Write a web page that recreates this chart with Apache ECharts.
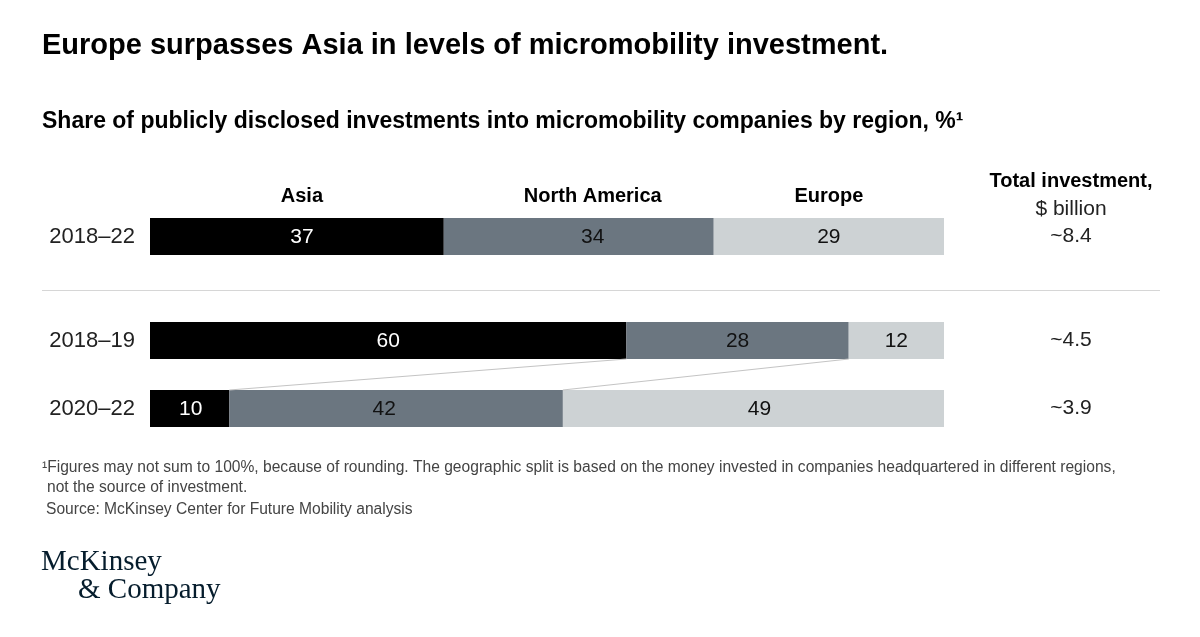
<!DOCTYPE html>
<html><head><meta charset="utf-8">
<script src="https://cdn.jsdelivr.net/npm/echarts@6/dist/echarts.min.js"></script>
<style>html,body{margin:0;padding:0;background:#fff}#c{width:1200px;height:637px}</style>
</head><body><div id="c"></div>
<script>
// ---- data ----
const regions = ['Asia', 'North America', 'Europe'];
const topPeriods = ['2018–22'];
const topAsia = [37];
const topNorthAmerica = [34];
const topEurope = [29];
const topTotals = ['~8.4'];
const splitPeriods = ['2018–19', '2020–22'];
const splitAsia = [60, 10];
const splitNorthAmerica = [28, 42];
const splitEurope = [12, 49];
const splitTotals = ['~4.5', '~3.9'];

// ---- styles ----
const SANS = '"Liberation Sans", Arial, sans-serif';
const colors = ['#000000', '#6b7680', '#cdd2d4'];
const labelColors = ['#ffffff', '#111111', '#111111'];
const BAR_H = 37;
// small horizontal label nudges (pixels) per grid row, per series, as in the original layout
const labelNudge = {
  0: [[5], [14], [0]],
  1: [[0, 1], [0, -12], [0, 6]]
};

const chart = echarts.init(document.getElementById('c'), null, {renderer: 'canvas'});

function barSeries(name, data, idx, gridIdx) {
  return {
    type: 'bar', name: name, stack: 'g' + gridIdx,
    xAxisIndex: gridIdx, yAxisIndex: gridIdx * 2,
    data: data.map((v, i) => ({value: v, label: {offset: [labelNudge[gridIdx][idx][i] || 0, 1]}})),
    barWidth: BAR_H, clip: true,
    itemStyle: {color: colors[idx]},
    label: {show: true, position: 'inside', formatter: '{c}',
      fontFamily: SANS, fontSize: 21, color: labelColors[idx]},
    emphasis: {disabled: true}, animation: false
  };
}

function yAxes(gridIdx, periods, totals) {
  return [
    {type: 'category', gridIndex: gridIdx, data: periods, inverse: true,
      axisLine: {show: false}, axisTick: {show: false}, splitLine: {show: false},
      axisLabel: {fontFamily: SANS, fontSize: 22, color: '#222', margin: 15}},
    {type: 'category', gridIndex: gridIdx, data: totals, inverse: true, position: 'right',
      axisLine: {show: false}, axisTick: {show: false}, splitLine: {show: false},
      axisLabel: {fontFamily: SANS, fontSize: 21, color: '#222', margin: 127, align: 'center',
        padding: [4, 0, 0, 0]}}
  ];
}

// header positions: centers of the top-row segments
const topVals = [topAsia[0], topNorthAmerica[0], topEurope[0]];
const headerData = [];
let acc = 0;
topVals.forEach((v, i) => { headerData.push([acc + v / 2, 0, i]); acc += v; });

// connector lines between cumulative boundaries of the two split rows
const connData = [
  [splitAsia[0], splitAsia[1], 0],
  [splitAsia[0] + splitNorthAmerica[0], splitAsia[1] + splitNorthAmerica[1], 0]
];

const option = {
  backgroundColor: '#ffffff',
  animation: false,
  grid: [
    {left: 150, right: 256, top: 218, height: 37},
    {left: 150, right: 256, top: 306.5, height: 136}
  ],
  xAxis: [
    {type: 'value', gridIndex: 0, min: 0, max: 100, show: false},
    {type: 'value', gridIndex: 1, min: 0, max: 100, show: false}
  ],
  yAxis: [].concat(yAxes(0, topPeriods, topTotals), yAxes(1, splitPeriods, splitTotals)),
  series: [
    barSeries(regions[0], topAsia, 0, 0),
    barSeries(regions[1], topNorthAmerica, 1, 0),
    barSeries(regions[2], topEurope, 2, 0),
    barSeries(regions[0], splitAsia, 0, 1),
    barSeries(regions[1], splitNorthAmerica, 1, 1),
    barSeries(regions[2], splitEurope, 2, 1),
    {
      type: 'custom', xAxisIndex: 0, yAxisIndex: 0, data: headerData,
      encode: {x: 0, y: 1}, silent: true, z: 5,
      renderItem: function (params, api) {
        const p = api.coord([api.value(0), api.value(1)]);
        const k = api.value(2);
        return {type: 'text', x: p[0] + labelNudge[0][k][0], y: p[1] - 40.5,
          style: {text: regions[k], align: 'center', verticalAlign: 'middle',
            font: 'bold 20px ' + SANS, fill: '#000'}};
      }
    },
    {
      type: 'custom', xAxisIndex: 1, yAxisIndex: 2, data: connData,
      encode: {x: [0, 1], y: 2}, silent: true, z: 5, clip: false,
      renderItem: function (params, api) {
        const p1 = api.coord([api.value(0), 0]);
        const p2 = api.coord([api.value(1), 1]);
        return {type: 'line',
          shape: {x1: p1[0], y1: p1[1] + BAR_H / 2, x2: p2[0], y2: p2[1] - BAR_H / 2},
          style: {stroke: '#c4c4c4', lineWidth: 1}};
      }
    }
  ],
  graphic: [
    {type: 'text', x: 42, y: 46, style: {text: 'Europe surpasses Asia in levels of micromobility investment.',
      font: 'bold 29px ' + SANS, fill: '#000', verticalAlign: 'middle'}},
    {type: 'text', x: 42, y: 122, style: {text: 'Share of publicly disclosed investments into micromobility companies by region, %¹',
      font: 'bold 23px ' + SANS, fill: '#000', verticalAlign: 'middle'}},
    {type: 'text', x: 1071, y: 181, style: {text: 'Total investment,', align: 'center', verticalAlign: 'middle',
      font: 'bold 20px ' + SANS, fill: '#000'}},
    {type: 'text', x: 1071, y: 209, style: {text: '$ billion', align: 'center', verticalAlign: 'middle',
      font: '21px ' + SANS, fill: '#222'}},
    {type: 'rect', shape: {x: 42, y: 290, width: 1118, height: 1}, style: {fill: '#d6d6d6'}, silent: true},
    {type: 'text', x: 42, y: 468, style: {text: '¹Figures may not sum to 100%, because of rounding. The geographic split is based on the money invested in companies headquartered in different regions,',
      font: '15.6px ' + SANS, fill: '#444', verticalAlign: 'middle'}},
    {type: 'text', x: 47, y: 488, style: {text: 'not the source of investment.',
      font: '15.6px ' + SANS, fill: '#444', verticalAlign: 'middle'}},
    {type: 'text', x: 46, y: 510, style: {text: 'Source: McKinsey Center for Future Mobility analysis',
      font: '15.6px ' + SANS, fill: '#444', verticalAlign: 'middle'}},
    {type: 'text', x: 41, y: 562, style: {text: 'McKinsey',
      font: '29px "Liberation Serif", "DejaVu Serif", serif', fill: '#051c2c', verticalAlign: 'middle'}},
    {type: 'text', x: 78, y: 590, style: {text: '& Company',
      font: '29px "Liberation Serif", "DejaVu Serif", serif', fill: '#051c2c', verticalAlign: 'middle'}}
  ]
};
chart.setOption(option);
</script>
</body></html>
